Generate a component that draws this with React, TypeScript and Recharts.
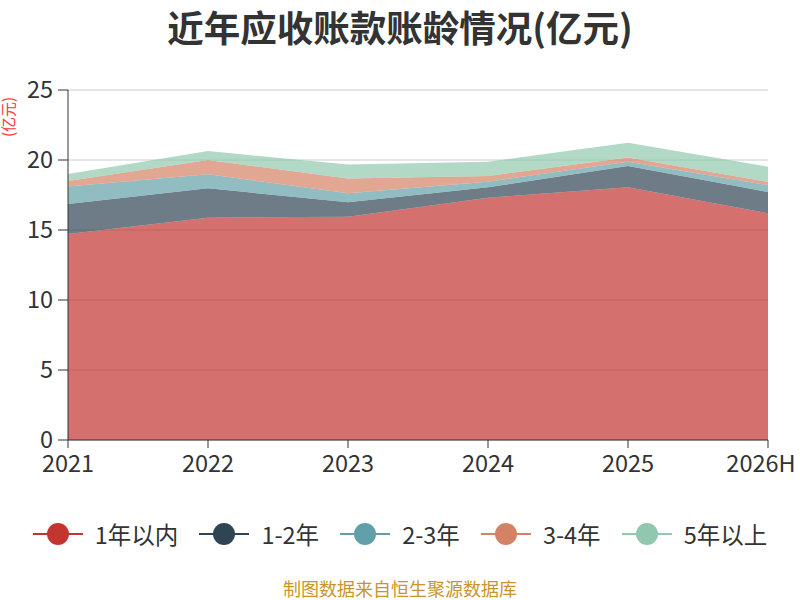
import { AreaChart, Area, XAxis, YAxis, CartesianGrid } from 'recharts';

// 应收账款账龄 (亿元)
const years = ['2021', '2022', '2023', '2024', '2025', '2026H'];
const within1 = [14.71, 15.88, 15.95, 17.31, 18.05, 16.19];
const y1to2 = [2.15, 2.1, 1.03, 0.74, 1.52, 1.52];
const y2to3 = [1.24, 1.0, 0.64, 0.4, 0.31, 0.5];
const y3to4 = [0.4, 1.02, 1.05, 0.41, 0.29, 0.22];
const over5 = [0.5, 0.64, 1.0, 1.02, 1.07, 1.09];
const yTicks = [0, 5, 10, 15, 20, 25];

const series = [
  { key: 'a', name: '1年以内', color: '#c23531', values: within1 },
  { key: 'b', name: '1-2年', color: '#2f4554', values: y1to2 },
  { key: 'c', name: '2-3年', color: '#61a0a8', values: y2to3 },
  { key: 'd', name: '3-4年', color: '#d48265', values: y3to4 },
  { key: 'e', name: '5年以上', color: '#91c7ae', values: over5 },
];

const data = years.map((year, i) => {
  const row: Record<string, string | number> = { year };
  series.forEach(s => { row[s.key] = s.values[i]; });
  return row;
});

const font = '"Noto Sans CJK SC", "Noto Sans", sans-serif';

const UnitLabel = () => (
  <text transform="translate(14,117) rotate(-90)" textAnchor="middle" fill="#ff3333" fontSize={15} fontFamily={font}>
    (亿元)
  </text>
);

// last label is nudged left so it stays inside the picture, like the original
const YearTick = ({ x, y, payload, index }: any) => (
  <text x={x - (index === years.length - 1 ? 7 : 0)} y={y} dy="0.75em" textAnchor="middle" fill="#333" fontSize={23.5} fontFamily={font}>
    {payload.value}
  </text>
);

export default function App() {
  return (
    <div style={{ position: 'absolute', left: 0, top: 0, width: 800, height: 600, background: '#fff', fontFamily: font }}>
      <div style={{ position: 'absolute', top: 4, left: 0, width: 800, textAlign: 'center', fontSize: 36.5, fontWeight: 'bold', color: '#333', lineHeight: '46px' }}>
        近年应收账款账龄情况(亿元)
      </div>
      <AreaChart width={800} height={480} data={data} margin={{ top: 90, right: 32, bottom: 0, left: 8 }}>
        <CartesianGrid vertical={false} stroke="#ccc" />
        <XAxis dataKey="year" height={40} tickSize={8} tickMargin={6} stroke="#333" tick={<YearTick />} />
        <YAxis width={60} domain={[0, 25]} ticks={yTicks} tickSize={10} tickMargin={5} stroke="#333" tick={{ fill: '#333', fontSize: 23.5, fontFamily: font }} label={<UnitLabel />} />
        {series.map(s => (
          <Area key={s.key} type="linear" dataKey={s.key} name={s.name} stackId="1" stroke="none" fill={s.color} fillOpacity={0.7} dot={false} activeDot={false} isAnimationActive={false} />
        ))}
      </AreaChart>
      <div style={{ position: 'absolute', top: 519, left: 0, width: 800, display: 'flex', justifyContent: 'center', gap: 21 }}>
        {series.map(s => (
          <div key={s.key} style={{ display: 'flex', alignItems: 'center', height: 30 }}>
            <svg width={50} height={24} style={{ marginRight: 12 }}>
              <line x1={0} y1={12} x2={50} y2={12} stroke={s.color} strokeWidth={2} />
              <circle cx={25} cy={12} r={11} fill={s.color} />
            </svg>
            <span style={{ fontSize: 23.5, color: '#333' }}>{s.name}</span>
          </div>
        ))}
      </div>
      <div style={{ position: 'absolute', top: 577, left: 0, width: 800, textAlign: 'center', fontSize: 18, color: '#c9952a', lineHeight: '22px' }}>
        制图数据来自恒生聚源数据库
      </div>
    </div>
  );
}
